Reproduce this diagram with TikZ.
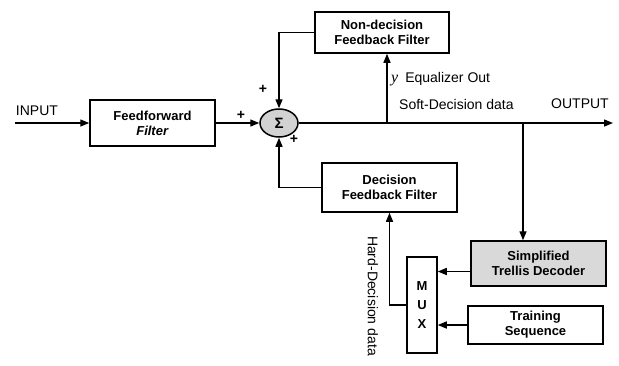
\documentclass[tikz,border=0pt]{standalone}
\usepackage{fontspec}
\setmainfont{Liberation Sans}
\newfontfamily\ylabelfont{Liberation Serif}
\usetikzlibrary{arrows.meta, shapes.geometric}

\begin{document}
\begin{tikzpicture}[
    x=1pt, y=-1pt,
    box/.style={rectangle, draw, line width=1.5pt, inner sep=2pt, align=center, font=\fontsize{13}{15}\selectfont\bfseries},
    arrow/.style={-{Triangle[length=9pt, width=7pt]}, line width=1.4pt},
    lbl/.style={font=\fontsize{14}{16}\selectfont, inner sep=0pt},
    sgn/.style={font=\fontsize{14}{14}\selectfont\bfseries, inner sep=0pt},
]
\useasboundingbox (0,0) rectangle (619,365);

\node[box, minimum width=125pt, minimum height=46pt] (ff) at (152.5,123) {Feedforward\\\textit{Filter}};
\node[ellipse, draw, line width=1.5pt, fill=gray!35, minimum width=38pt, minimum height=28pt, inner sep=0pt, font=\fontsize{15}{15}\selectfont\bfseries] (sum) at (279,123) {Σ};
\node[box, minimum width=134pt, minimum height=41pt] (nd) at (382,32.5) {Non-decision\\Feedback Filter};
\node[box, minimum width=135pt, minimum height=49pt] (dff) at (389.5,187.5) {Decision\\Feedback Filter};
\node[box, minimum width=30pt, minimum height=96pt, font=\fontsize{13}{19}\selectfont\bfseries] (mux) at (422,305) {M\\U\\X};
\node[box, fill=gray!30, minimum width=135pt, minimum height=45pt] (tcm) at (538.5,263.5) {Simplified\\Trellis Decoder};
\node[box, minimum width=135pt, minimum height=38pt] (train) at (535.5,325) {Training\\Sequence};

\coordinate (in) at (15,123);
\coordinate (out) at (613,123);
\coordinate (ybr) at (387,123);
\coordinate (tbr) at (523,123);

\draw[arrow] (in) -- (ff.west);
\draw[arrow] (ff.east) -- (sum.west);
\draw[arrow] (sum.east) -- (out);
\draw[arrow] (ybr) -- (ybr |- nd.south);
\draw[arrow] (nd.west) -| (sum.north);
\draw[arrow] (dff.west) -| (sum.south);
\draw[arrow] (tbr) -- (tbr |- tcm.north);
\draw[arrow] ([yshift=-8pt]tcm.west) -- ([yshift=-8pt]tcm.west -| mux.east);
\draw[arrow] (train.west) -- (train.west -| mux.east);
\draw[arrow] (mux.west) -| (dff.south);

\node[lbl] (inlbl) at (37,111) {INPUT};
\node[lbl] (outlbl) at (580,104) {OUTPUT};
\node[lbl, anchor=west] (ylbl) at (391,79) {{\ylabelfont\itshape\fontsize{16}{16}\selectfont y}\enspace Equalizer Out};
\node[lbl, anchor=west] (soft) at (399,104) {Soft-Decision data};
\node[lbl, rotate=-90] (hard) at (373,296) {Hard-Decision data};

\node[sgn] (p1) at (241,115) {+};
\node[sgn] (p2) at (263,89) {+};
\node[sgn] (p3) at (294,139) {+};
\end{tikzpicture}
\end{document}
